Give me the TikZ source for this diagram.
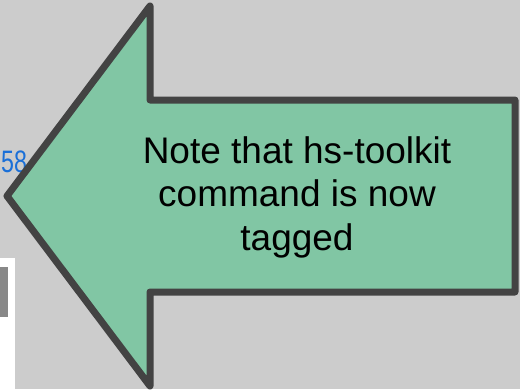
\documentclass[tikz,border=0pt]{standalone}
\usepackage{fontspec}
\setmainfont{Liberation Sans}
\definecolor{bggray}{HTML}{CCCCCC}
\definecolor{notegreen}{HTML}{81C6A4}
\definecolor{edgegray}{HTML}{434343}
\definecolor{numblue}{HTML}{1A6FD8}
\definecolor{bargray}{HTML}{888888}
\tikzset{
  notearrow/.style={draw=edgegray,fill=notegreen,line width=7pt,line join=round},
  notetext/.style={align=center,inner sep=0pt,font=\fontsize{37}{43.5}\selectfont}
}

\begin{document}
\begin{tikzpicture}[x={(1pt,0pt)}, y={(0pt,-1pt)}]
  % Background
  \fill[bggray] (0,0) rectangle (520,389);
  \useasboundingbox (0,0) rectangle (520,389);
  % Panel at the left
  \fill[white] (0,258) rectangle (15,389);
  \fill[bargray] (0,267) rectangle (8,317);
  \node[anchor=base west,inner sep=0pt,text=numblue,xscale=0.75,
        font=\fontsize{31}{34}\selectfont] (Num) at (1,172) {58};

  % Arrow
  \draw[notearrow] (7,196) -- (150,6) -- (150,100) -- (515,100)
    -- (515,292) -- (150,292) -- (150,386) -- cycle;

  % Note
  \node[notetext] (Note) at (297,197) {Note that hs-toolkit\\command is now\\tagged};
\end{tikzpicture}
\end{document}
